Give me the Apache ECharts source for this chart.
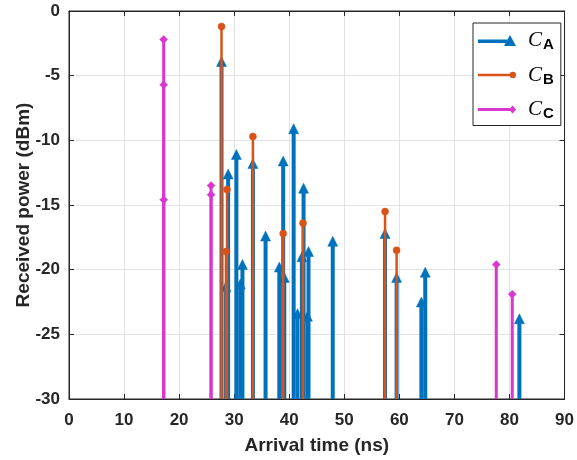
<!DOCTYPE html>
<html>
<head>
<meta charset="utf-8">
<script src="https://cdn.jsdelivr.net/npm/echarts@6/dist/echarts.min.js"></script>
<style>
html,body{margin:0;padding:0;background:#fff;}
#chart{width:577px;height:460px;}
</style>
</head>
<body>
<div id="chart"></div>
<script>
// ---- data ----
const seriesNames = ['CA', 'CB', 'CC'];
const aTime = [27.7, 28.5, 28.9, 30.4, 31.1, 31.5, 33.4, 35.7, 38.2, 38.9, 39.1, 40.8, 41.5, 42.3, 42.6, 43.3, 43.5, 47.9, 57.4, 59.5, 64.0, 64.7, 81.8];
const aPower = [-3.9, -21.3, -12.6, -11.1, -21.1, -19.6, -11.8, -17.4, -19.8, -11.6, -20.6, -9.1, -23.4, -19.0, -13.7, -23.6, -18.6, -17.8, -17.2, -20.6, -22.5, -20.2, -23.8];
const bTime = [27.7, 28.5, 28.7, 33.4, 38.9, 42.5, 57.4, 59.5];
const bPower = [-1.2, -18.6, -13.8, -9.7, -17.2, -16.4, -15.5, -18.5];
const cTime = [17.2, 17.2, 17.2, 25.8, 25.8, 77.6, 80.5];
const cPower = [-2.2, -5.7, -14.6, -13.5, -14.2, -19.6, -21.9];
const xTicks = {min: 0, max: 90, interval: 10};
const yTicks = {min: -30, max: 0, interval: 5};
const baseValue = -30;

const blue = '#0072BD', orange = '#D95319', magenta = '#D936D0';
const axisColor = '#262626';

function zip(xs, ys) { return xs.map((x, i) => [x, ys[i]]); }

const markerPaths = {
  tri: 'M0,-1 L1,1 L-1,1 Z',
  circ: 'M1,0 A1,1 0 1 1 -1,0 A1,1 0 1 1 1,0 Z',
  dia: 'M0,-1 L1,0 L0,1 L-1,0 Z'
};

function stemRender(color, lw, marker, mw, mh) {
  return function (params, api) {
    const x = api.value(0), y = api.value(1);
    const top = api.coord([x, y]);
    const bot = api.coord([x, baseValue]);
    return {
      type: 'group',
      children: [
        {type: 'line', shape: {x1: top[0], y1: top[1], x2: bot[0], y2: bot[1]},
         style: {stroke: color, lineWidth: lw}},
        {type: 'path', shape: {pathData: markerPaths[marker], x: top[0] - mw / 2, y: top[1] - mh / 2, width: mw, height: mh},
         style: {fill: color, stroke: color, lineWidth: 0.5}}
      ]
    };
  };
}

const legendIcons = {
  CA: 'path://M0,4.5 L31,4.5 L31,8 L0,8 Z M32,0 L38,11 L26,11 Z',
  CB: 'path://M0,4.8 L33,4.8 L33,7.2 L0,7.2 Z M35,2.8 A3.2,3.2 0 1 1 35,9.2 A3.2,3.2 0 1 1 35,2.8 Z',
  CC: 'path://M0,4.6 L33,4.6 L33,7.4 L0,7.4 Z M35,2 L38.5,6 L35,10 L31.5,6 Z'
};
const legendSub = {CA: 'A', CB: 'B', CC: 'C'};

const chart = echarts.init(document.getElementById('chart'), null, {renderer: 'canvas'});
const axisLabelStyle = {color: axisColor, fontSize: 17, fontWeight: 'bold', fontFamily: 'Arial, Liberation Sans, sans-serif'};

chart.setOption({
  animation: false,
  backgroundColor: '#fff',
  grid: {left: 69, right: 10, top: 11, bottom: 61, show: true, borderColor: axisColor, borderWidth: 1, backgroundColor: 'transparent'},
  legend: {
    orient: 'vertical',
    left: 473, top: 23,
    itemWidth: 38, itemHeight: 12,
    itemGap: 12,
    padding: [7, 7, 4, 5],
    borderColor: axisColor, borderWidth: 1, backgroundColor: '#fff',
    data: seriesNames.map(n => ({name: n, icon: legendIcons[n]})),
    formatter: n => '{c|C}{s|' + legendSub[n] + '}',
    textStyle: {
      color: '#000',
      rich: {
        c: {fontSize: 21, fontStyle: 'italic', fontFamily: 'Liberation Serif, DejaVu Serif, serif', color: '#000', lineHeight: 24, verticalAlign: 'middle', padding: [0, 1, 0, 7]},
        s: {fontSize: 15, fontWeight: 'bold', fontFamily: 'Arial, Liberation Sans, sans-serif', color: '#000', lineHeight: 10, verticalAlign: 'bottom'}
      }
    }
  },
  xAxis: [{
    type: 'value', min: xTicks.min, max: xTicks.max, interval: xTicks.interval,
    name: 'Arrival time (ns)', nameLocation: 'middle', nameGap: 37,
    nameTextStyle: {color: axisColor, fontSize: 19, fontWeight: 'bold', fontFamily: 'Arial, Liberation Sans, sans-serif'},
    axisLine: {show: true, onZero: false, lineStyle: {color: axisColor, width: 1}},
    axisTick: {show: true, inside: true, length: 5, lineStyle: {color: axisColor}},
    axisLabel: Object.assign({margin: 13}, axisLabelStyle),
    splitLine: {show: true, lineStyle: {color: '#e3e3e3', width: 1}}
  }, {
    type: 'value', position: 'top', min: xTicks.min, max: xTicks.max, interval: xTicks.interval,
    axisLine: {show: true, onZero: false, lineStyle: {color: axisColor}},
    axisTick: {show: true, inside: true, length: 5, lineStyle: {color: axisColor}},
    axisLabel: {show: false}, splitLine: {show: false}
  }],
  yAxis: [{
    type: 'value', min: yTicks.min, max: yTicks.max, interval: yTicks.interval,
    name: 'Received power (dBm)', nameLocation: 'middle', nameGap: 36, nameMoveOverlap: false,
    nameTextStyle: {color: axisColor, fontSize: 19, fontWeight: 'bold', fontFamily: 'Arial, Liberation Sans, sans-serif'},
    axisLine: {show: true, onZero: false, lineStyle: {color: axisColor, width: 1}},
    axisTick: {show: true, inside: true, length: 5, lineStyle: {color: axisColor}},
    axisLabel: Object.assign({margin: 9}, axisLabelStyle),
    splitLine: {show: true, lineStyle: {color: '#e3e3e3', width: 1}}
  }, {
    type: 'value', position: 'right', min: yTicks.min, max: yTicks.max, interval: yTicks.interval,
    axisLine: {show: true, onZero: false, lineStyle: {color: axisColor}},
    axisTick: {show: true, inside: true, length: 5, lineStyle: {color: axisColor}},
    axisLabel: {show: false}, splitLine: {show: false}
  }],
  series: [
    {name: 'CA', type: 'custom', xAxisIndex: 0, yAxisIndex: 0, data: zip(aTime, aPower),
     itemStyle: {color: blue}, renderItem: stemRender(blue, 4, 'tri', 12, 10), z: 2},
    {name: 'CB', type: 'custom', xAxisIndex: 0, yAxisIndex: 0, data: zip(bTime, bPower),
     itemStyle: {color: orange}, renderItem: stemRender(orange, 2.5, 'circ', 7, 7), z: 3},
    {name: 'CC', type: 'custom', xAxisIndex: 0, yAxisIndex: 0, data: zip(cTime, cPower),
     itemStyle: {color: magenta}, renderItem: stemRender(magenta, 3, 'dia', 8, 9), z: 4}
  ]
});
</script>
</body>
</html>
